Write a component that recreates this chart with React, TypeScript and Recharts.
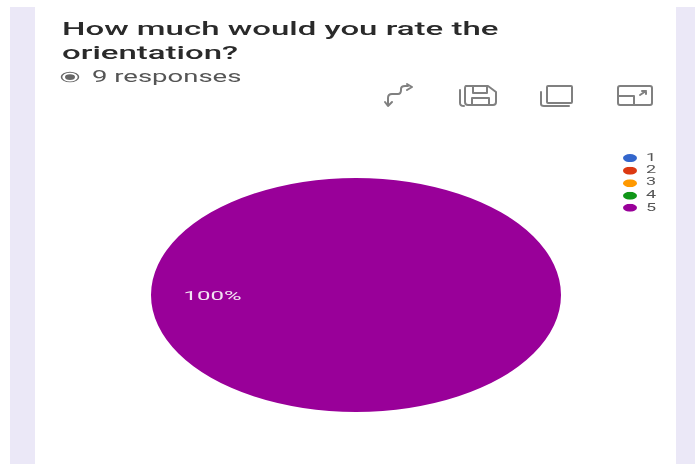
import { PieChart, Pie, Cell, Legend } from 'recharts'

const categories = ['1', '2', '3', '4', '5']
const responses = [0, 0, 0, 0, 9]
const colors = ['#3366cc', '#dc3912', '#ff9900', '#109618', '#990099']

const data = categories.map((name, i) => ({ name, value: responses[i] }))

// the source is a screenshot stretched sideways, so the whole page is squeezed in y
const SQUASH = 117 / 205
const sy = (y: number) => y / SQUASH

const pctLabel = ({ cx, cy, midAngle, outerRadius, percent, value }: any) => {
  if (!value) return null
  const r = outerRadius * 0.7
  const x = cx + r * Math.cos((-midAngle * Math.PI) / 180)
  const y = cy + r * Math.sin((-midAngle * Math.PI) / 180)
  return (
    <text x={x} y={y} fill="#f3e3f3" fontSize={24} fontFamily="Roboto" textAnchor="middle" dominantBaseline="central">
      {`${Math.round(percent * 100)}%`}
    </text>
  )
}

function Icons() {
  const s = { fill: 'none', stroke: '#808080', strokeWidth: 2, strokeLinejoin: 'round', strokeLinecap: 'round' } as const
  return (
    <svg width={695} height={464} style={{ position: 'absolute', left: 0, top: 0 }}>
      <g {...s}>
        {/* switch */}
        <path d="M388 105v-7q0-4 4-4h6q3 0 3-4v-1q0-3 4-3h3" />
        <path d="M385 102l3 4 4-4M407 84l5 3-5 3" />
        {/* save */}
        <path d="M466 86h22l8 6v10q0 3-3 3h-25q-3 0-3-3V89q0-3 1-3z" />
        <path d="M473 86v7h14v-7M472 105v-7h17v7M460 90v13q0 3 4 3" />
        {/* copy */}
        <rect x={547} y={86} width={25} height={17} rx={1} />
        <path d="M541 92v12q0 2 3 2h25" />
        {/* expand */}
        <rect x={618} y={86} width={34} height={19} rx={2} />
        <path d="M618 96h16v9M640 95l6-4M642 91h4v3" />
      </g>
    </svg>
  )
}

export default function App() {
  return (
    <div style={{ position: 'absolute', left: 0, top: 0, width: 695, height: 464, overflow: 'hidden', background: '#fff', filter: 'blur(0.6px)' }}>
      <div style={{ position: 'absolute', left: 10, top: 7, width: 25, height: 457, background: '#ebe8f7' }} />
      <div style={{ position: 'absolute', left: 676, top: 7, width: 19, height: 457, background: '#ebe8f7' }} />

      <div style={{ position: 'absolute', left: 0, top: 0, width: 695, height: sy(464), transform: `scaleY(${SQUASH})`, transformOrigin: '0 0', fontFamily: 'Roboto' }}>
        <div style={{ position: 'absolute', left: 62, top: sy(17), fontSize: 33, lineHeight: `${sy(24)}px`, fontWeight: 500, color: '#2a2a2a', whiteSpace: 'nowrap' }}>
          How much would you rate the
          <br />
          orientation?
        </div>
        <div style={{ position: 'absolute', left: 92, top: sy(66), fontSize: 27.5, lineHeight: `${sy(20)}px`, color: '#555', whiteSpace: 'nowrap' }}>
          9 responses
        </div>
        <svg width={20} height={24} style={{ position: 'absolute', left: 60, top: sy(77) - 12 }}>
          <circle cx={10} cy={12} r={8.5} fill="none" stroke="#666" strokeWidth={1.6} />
          <circle cx={10} cy={12} r={5} fill="#666" />
        </svg>

        <PieChart
          width={695}
          height={sy(464)}
          margin={{ top: 0, right: 0, bottom: 0, left: 0 }}
          style={{ position: 'absolute', left: 0, top: 0 }}
        >
          <Pie
            data={data}
            dataKey="value"
            nameKey="name"
            cx={356}
            cy={sy(295)}
            outerRadius={205}
            startAngle={0}
            endAngle={360}
            stroke="none"
            label={pctLabel}
            labelLine={false}
            isAnimationActive={false}
          >
            {data.map((d, i) => (
              <Cell key={d.name} fill={colors[i]} />
            ))}
          </Pie>
          <Legend
            layout="vertical"
            iconType="circle"
            iconSize={14}
            wrapperStyle={{ position: 'absolute', left: 623, top: sy(151), width: 50, fontSize: 18, lineHeight: `${sy(12.5)}px`, padding: 0 }}
            formatter={(v: string) => <span style={{ color: '#555', marginLeft: 5 }}>{v}</span>}
          />
        </PieChart>
      </div>
      <Icons />
    </div>
  )
}
